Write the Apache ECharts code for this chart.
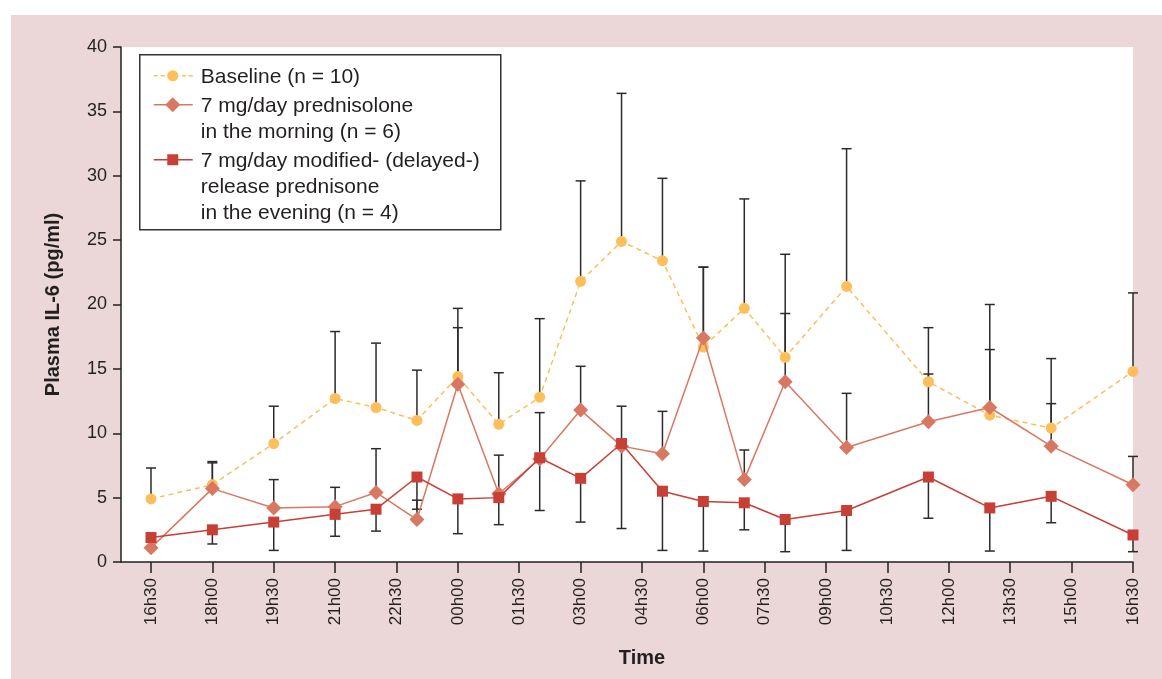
<!DOCTYPE html>
<html>
<head>
<meta charset="utf-8">
<script src="https://cdn.jsdelivr.net/npm/echarts@6/dist/echarts.min.js"></script>
<style>
  html, body { margin: 0; padding: 0; background: #fff; }
  #bg { position: absolute; left: 11px; top: 15px; width: 1151px; height: 664px; background: #ebd7d7; }
  #chart { position: absolute; left: 0; top: 0; width: 1162px; height: 679px; }
</style>
</head>
<body>
<div id="bg"></div>
<div id="chart"></div>
<script>
// sampling times, hours from midnight of day 1 (16h30 -> 16h30 next day)
const times = [16.5, 18, 19.5, 21, 22, 23, 24, 25, 26, 27, 28, 29, 30, 31, 32, 33.5, 35.5, 37, 38.5, 40.5]

// x tick positions (every 1h30)
const tickHours = [16.5, 18, 19.5, 21, 22.5, 24, 25.5, 27, 28.5, 30, 31.5, 33, 34.5, 36, 37.5, 39, 40.5]

const baseline      = [4.9, 6.0, 9.2, 12.7, 12.0, 11.0, 14.4, 10.7, 12.8, 21.8, 24.9, 23.4, 16.7, 19.7, 15.9, 21.4, 14.0, 11.4, 10.4, 14.8]
const baselineUpper = [7.3, 7.7, 12.1, 17.9, 17.0, 14.9, 19.7, 14.7, 18.9, 29.6, 36.4, 29.8, 22.9, 28.2, 23.9, 32.1, 18.2, 20.0, 15.8, 20.9]

const morning      = [1.1, 5.7, 4.2, 4.3, 5.4, 3.3, 13.8, 5.3, 8.0, 11.8, 9.0, 8.4, 17.4, 6.4, 14.0, 8.9, 10.9, 12.0, 9.0, 6.0]
const morningUpper = [null, 7.8, 6.4, 5.8, 8.8, 4.8, 18.2, 8.3, 11.6, 15.2, 12.1, 11.7, 22.9, 8.7, 19.3, 13.1, 14.6, 16.5, 12.3, 8.2]

const evening      = [1.9, 2.5, 3.1, 3.7, 4.1, 6.6, 4.9, 5.0, 8.1, 6.5, 9.2, 5.5, 4.7, 4.6, 3.3, 4.0, 6.6, 4.2, 5.1, 2.1]
const eveningLower = [null, 1.4, 0.9, 2.0, 2.4, 4.1, 2.2, 2.9, 4.0, 3.1, 2.6, 0.9, 0.85, 2.5, 0.8, 0.9, 3.4, 0.85, 3.05, 0.8]

const legendNames = [
  ['Baseline (n = 10)'],
  ['7 mg/day prednisolone', 'in the morning (n = 6)'],
  ['7 mg/day modified- (delayed-)', 'release prednisone', 'in the evening (n = 4)']
]

const C_BASE = '#fdbe5c'
const C_MORN = '#d87862'
const C_EVE = '#c83f36'
const TXT = '#231f20'
const FONT = 'Liberation Sans, Arial, sans-serif'

function pairs(vals) {
  return times.map((t, i) => [t, vals[i]])
}

// [x, from, to] : bar drawn from the mean to "to", capped at "to"
function bars(vals, ends) {
  const out = []
  times.forEach((t, i) => {
    if (ends[i] != null) out.push([t, vals[i], ends[i]])
  })
  return out
}

function fmtTime(v) {
  const h = v % 24
  const hh = Math.floor(h + 1e-6)
  const mm = (h - hh) > 0.25 ? '30' : '00'
  return String(hh).padStart(2, '0') + 'h' + mm
}

function renderErr(params, api) {
  const x = api.value(0)
  const p0 = api.coord([x, api.value(1)])
  const p1 = api.coord([x, api.value(2)])
  const style = { stroke: '#2b2b2b', lineWidth: 1.5 }
  return {
    type: 'group',
    children: [
      { type: 'line', shape: { x1: p0[0], y1: p0[1], x2: p1[0], y2: p1[1] }, style },
      { type: 'line', shape: { x1: p1[0] - 5, y1: p1[1], x2: p1[0] + 5, y2: p1[1] }, style }
    ]
  }
}

function errSeries(data) {
  return {
    type: 'custom',
    renderItem: renderErr,
    data,
    encode: { x: 0, y: [1, 2] },
    z: 1,
    silent: true
  }
}

// legend drawn by hand so the marker sits on the first text line
const lgX = 139, lgY = 54
const rowY = [21, 50, 105]
const legendChildren = [
  { type: 'rect', shape: { x: 0, y: 0, width: 361, height: 175 },
    style: { fill: '#fff', stroke: '#333', lineWidth: 1.5 } }
]
const colors = [C_BASE, C_MORN, C_EVE]
rowY.forEach((y, k) => {
  legendChildren.push({
    type: 'line', shape: { x1: 14, y1: y, x2: 53, y2: y },
    style: { stroke: colors[k], lineWidth: 1.5, lineDash: k === 0 ? [4, 3] : null }
  })
  if (k === 0) {
    legendChildren.push({ type: 'circle', shape: { cx: 33, cy: y, r: 5.5 }, style: { fill: C_BASE } })
  } else if (k === 1) {
    legendChildren.push({ type: 'polygon', shape: { points: [[33, y - 7.5], [40.5, y], [33, y + 7.5], [25.5, y]] }, style: { fill: C_MORN } })
  } else {
    legendChildren.push({ type: 'rect', shape: { x: 27.5, y: y - 5.5, width: 11, height: 11 }, style: { fill: C_EVE } })
  }
  legendNames[k].forEach((line, j) => {
    legendChildren.push({
      type: 'text', x: 61, y: y + 1 + j * 26,
      style: { text: line, fill: TXT, font: '21px ' + FONT, verticalAlign: 'middle' }
    })
  })
})

const chart = echarts.init(document.getElementById('chart'))

chart.setOption({
  backgroundColor: 'transparent',
  animation: false,
  grid: { left: 121, right: 29, top: 47, bottom: 117, show: true, backgroundColor: '#fff', borderWidth: 0 },
  xAxis: {
    type: 'value',
    min: 15.767,
    max: 40.5,
    name: 'Time',
    nameLocation: 'middle',
    nameGap: 86,
    nameTextStyle: { fontSize: 20, fontWeight: 'bold', color: TXT, fontFamily: FONT, padding: [0, 0, 0, 30] },
    splitLine: { show: false },
    axisLine: { lineStyle: { color: '#222', width: 1.5 } },
    axisTick: { length: 11, customValues: tickHours, lineStyle: { color: '#222', width: 1.5 } },
    axisLabel: { rotate: 90, margin: 16, fontSize: 17, color: TXT, fontFamily: FONT, customValues: tickHours, formatter: fmtTime }
  },
  yAxis: {
    type: 'value',
    min: 0,
    max: 40,
    interval: 5,
    name: 'Plasma IL-6 (pg/ml)',
    nameLocation: 'middle',
    nameGap: 58,
    nameTextStyle: { fontSize: 20, fontWeight: 'bold', color: TXT, fontFamily: FONT },
    splitLine: { show: false },
    axisLine: { show: true, lineStyle: { color: '#222', width: 1.5 } },
    axisTick: { show: true, length: 8, lineStyle: { color: '#222', width: 1.5 } },
    axisLabel: { margin: 14, fontSize: 18, color: TXT, fontFamily: FONT }
  },
  graphic: [{ type: 'group', left: lgX, top: lgY, z: 100, children: legendChildren }],
  series: [
    errSeries(bars(baseline, baselineUpper)),
    errSeries(bars(morning, morningUpper)),
    errSeries(bars(evening, eveningLower)),
    {
      name: 'Baseline (n = 10)',
      type: 'line',
      data: pairs(baseline),
      symbol: 'circle',
      symbolSize: 11,
      itemStyle: { color: C_BASE },
      lineStyle: { color: C_BASE, width: 1.5, type: [5, 4] },
      z: 2
    },
    {
      name: '7 mg/day prednisolone in the morning (n = 6)',
      type: 'line',
      data: pairs(morning),
      symbol: 'diamond',
      symbolSize: 15,
      itemStyle: { color: C_MORN },
      lineStyle: { color: C_MORN, width: 1.5 },
      z: 3
    },
    {
      name: '7 mg/day modified- (delayed-) release prednisone in the evening (n = 4)',
      type: 'line',
      data: pairs(evening),
      symbol: 'rect',
      symbolSize: 11,
      itemStyle: { color: C_EVE },
      lineStyle: { color: C_EVE, width: 1.5 },
      z: 4
    }
  ]
})
</script>
</body>
</html>
